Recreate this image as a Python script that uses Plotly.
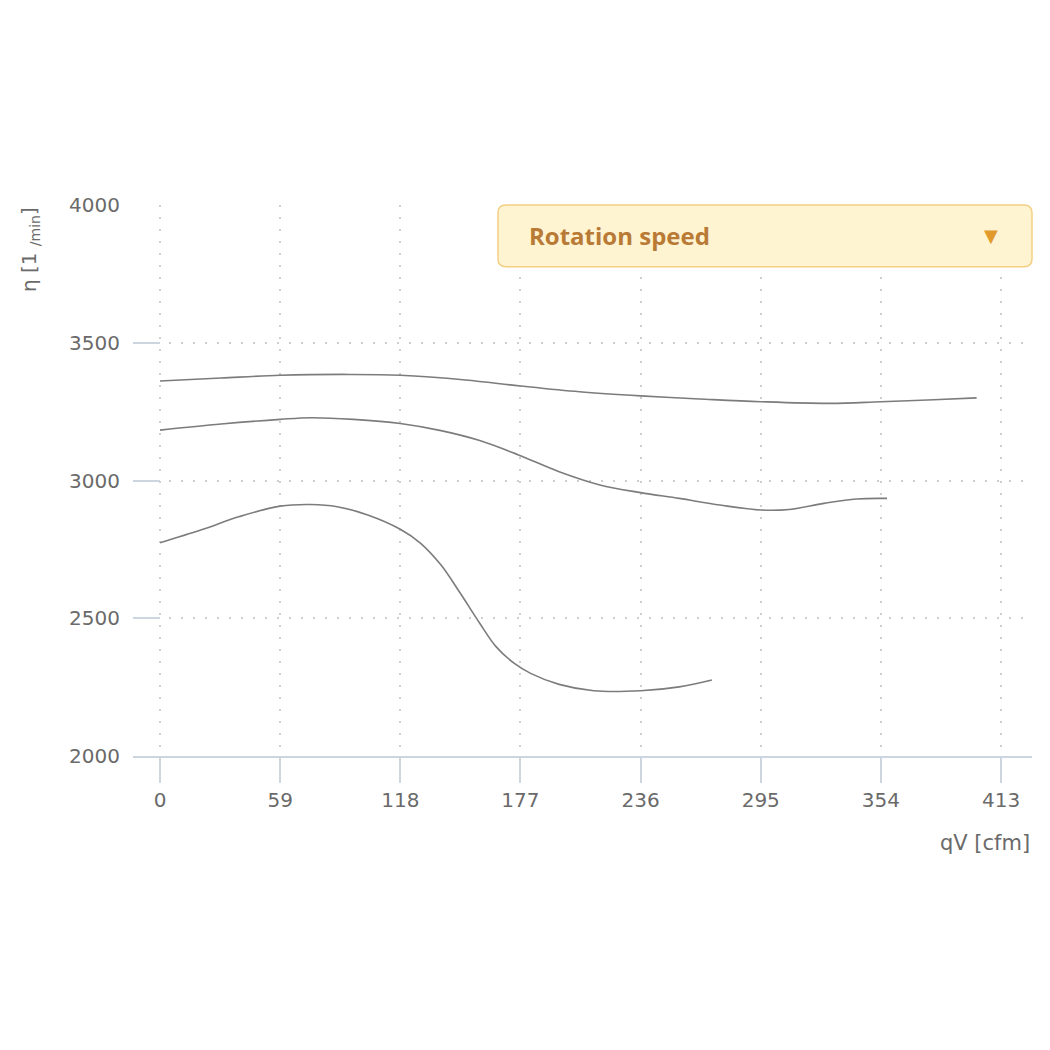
import plotly.graph_objects as go

# rotation speed curves
qv_high = [0, 30, 59, 93, 118, 150, 177, 206, 236, 265, 295, 329, 354, 380, 401]
n_high = [3361, 3372, 3382, 3385, 3382, 3365, 3343, 3322, 3307, 3296, 3286, 3280, 3286, 3293, 3300]

qv_mid = [0, 30, 59, 74, 95, 118, 138, 157, 176, 196, 216, 236, 255, 275, 295, 309, 326, 342, 357]
n_mid = [3183, 3205, 3222, 3228, 3222, 3207, 3181, 3145, 3093, 3032, 2984, 2956, 2935, 2911,
         2893, 2895, 2917, 2933, 2935]

qv_low = [0, 20, 39, 59, 74, 87, 102, 118, 128, 138, 147, 157, 165, 174, 182, 196, 213, 236, 255, 271]
n_low = [2774, 2820, 2869, 2907, 2913, 2905, 2875, 2823, 2772, 2693, 2596, 2482, 2397, 2336,
         2300, 2260, 2237, 2237, 2251, 2276]

x_ticks = [0, 59, 118, 177, 236, 295, 354, 413]
y_ticks = [2000, 2500, 3000, 3500, 4000]

fig = go.Figure()
for xs, ys in [(qv_high, n_high), (qv_mid, n_mid), (qv_low, n_low)]:
    fig.add_trace(go.Scatter(x=xs, y=ys, mode="lines",
                             line=dict(color="#7c7c7c", width=1.6, shape="spline", smoothing=1.0),
                             hoverinfo="skip", showlegend=False))

tick_font = dict(family="DejaVu Sans", size=20, color="#6a6a6a")
grid = dict(showgrid=True, gridcolor="#cfcfcf", griddash="2px,10px", gridwidth=2, zeroline=False)
fig.update_xaxes(range=[-13.26, 428.2], tickvals=x_ticks, ticks="outside", ticklen=25,
                 tickwidth=2, tickcolor="#cdd5df", showline=True, linecolor="#cdd5df",
                 linewidth=2, tickfont=tick_font, **grid)
fig.update_yaxes(range=[2000, 4000], tickvals=y_ticks, ticks="inside", ticklen=27,
                 tickwidth=2, tickcolor="#cdd5df", showline=False,
                 tickfont=tick_font, ticklabelstandoff=12, **grid)

# dropdown-like box
x0, x1, y0, y1 = 0.406, 1.0, 0.888, 1.0
rx, ry = 0.009, 0.0145
path = (f"M {x0+rx},{y0} L {x1-rx},{y0} Q {x1},{y0} {x1},{y0+ry} "
        f"L {x1},{y1-ry} Q {x1},{y1} {x1-rx},{y1} L {x0+rx},{y1} "
        f"Q {x0},{y1} {x0},{y1-ry} L {x0},{y0+ry} Q {x0},{y0} {x0+rx},{y0} Z")
fig.add_shape(type="path", path=path, xref="paper", yref="paper",
              fillcolor="#fff4d2", line=dict(color="#f3cf83", width=1.5))

fig.add_annotation(text="<b>Rotation speed</b>", xref="paper", yref="paper",
                   x=0.438, y=0.944, xanchor="left", yanchor="middle", showarrow=False,
                   font=dict(family="Open Sans", size=24, color="#b87a34"))
fig.add_annotation(text="▼", xref="paper", yref="paper", x=0.954, y=0.944,
                   xanchor="center", yanchor="middle", showarrow=False,
                   font=dict(family="DejaVu Sans", size=18, color="#e39a2c"))

# axis titles
fig.add_annotation(text="η [1 <sub>/min</sub>]", xref="paper", yref="paper",
                   x=-0.115, y=1.0, xanchor="center", yanchor="top", textangle=-90,
                   showarrow=False, font=dict(family="DejaVu Sans", size=20, color="#6a6a6a"))
fig.add_annotation(text="qV [cfm]", xref="paper", yref="paper", x=1.0, y=-0.158,
                   xanchor="right", yanchor="middle", showarrow=False,
                   font=dict(family="DejaVu Sans", size=21, color="#6a6a6a"))

# page body adds ~8px offset, so margins are shifted to compensate
fig.update_layout(width=1050, height=1050, paper_bgcolor="white", plot_bgcolor="white",
                  margin=dict(l=125, r=26, t=197, b=302))

fig.write_html("out.html")
